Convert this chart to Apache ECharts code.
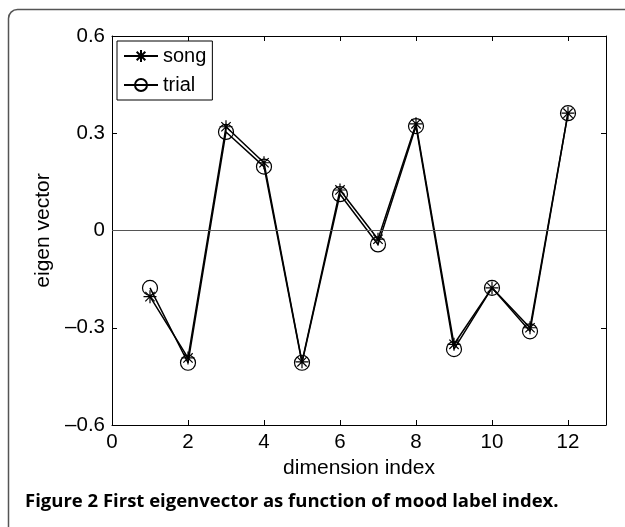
<!DOCTYPE html>
<html>
<head>
<meta charset="utf-8">
<script src="https://cdn.jsdelivr.net/npm/echarts@6/dist/echarts.min.js"></script>
<style>
  html, body { margin: 0; padding: 0; background: #fff; }
  #chart { width: 625px; height: 527px; }
</style>
</head>
<body>
<div id="chart"></div>
<script>
// values
var dims = [1, 2, 3, 4, 5, 6, 7, 8, 9, 10, 11, 12];
var song = [-0.204, -0.393, 0.320, 0.209, -0.405, 0.125, -0.027, 0.329, -0.351, -0.177, -0.300, 0.362];
var trial = [-0.177, -0.408, 0.304, 0.197, -0.408, 0.112, -0.043, 0.322, -0.366, -0.177, -0.311, 0.362];

var FONT = 'Liberation Sans, Arial, sans-serif';
var STAR = 'path://M0,-1L0,1M-1,0L1,0M-0.72,-0.72L0.72,0.72M-0.72,0.72L0.72,-0.72';

function pairs(ys) {
    return dims.map(function (x, i) { return [x, ys[i]]; });
}

function xFmt(v) {
    return v % 2 === 0 ? String(v) : '';   // no label on the 13 edge
}

function yFmt(v) {
    if (Math.abs(v) < 1e-9) return '0';
    return (v < 0 ? '\u2013' : '') + Math.abs(v).toFixed(1);
}

var axisCommon = {
    axisLine: { show: true, onZero: false, lineStyle: { color: '#000', width: 1 } },
    axisTick: { show: true, inside: true, length: 5, lineStyle: { color: '#000' } },
    splitLine: { show: false }
};

var chart = echarts.init(document.getElementById('chart'));
chart.setOption({
    animation: false,
    backgroundColor: '#fff',
    grid: { left: 112, right: 19, top: 36, bottom: 102 },
    legend: {
        orient: 'vertical',
        left: 117,
        top: 41,
        itemWidth: 34,
        itemHeight: 15,
        itemGap: 9,
        padding: [5, 6, 5, 6],
        borderColor: '#000',
        borderWidth: 1,
        borderRadius: 0,
        backgroundColor: '#fff',
        textStyle: { fontFamily: FONT, fontSize: 20, color: '#000' },
        data: ['song', 'trial']
    },
    xAxis: [
        Object.assign({}, axisCommon, {
            type: 'value', min: 0, max: 13, interval: 2,
            name: 'dimension index', nameLocation: 'middle', nameGap: 30,
            nameTextStyle: { fontFamily: FONT, fontSize: 21, color: '#000' },
            axisLabel: { fontFamily: FONT, fontSize: 20.5, color: '#000', margin: 7, formatter: xFmt }
        }),
        Object.assign({}, axisCommon, {
            type: 'value', min: 0, max: 13, interval: 2, position: 'top',
            axisLabel: { show: false }
        })
    ],
    yAxis: [
        Object.assign({}, axisCommon, {
            type: 'value', min: -0.6, max: 0.6, interval: 0.3,
            name: 'eigen vector', nameLocation: 'middle', nameGap: 56,
            nameTextStyle: { fontFamily: FONT, fontSize: 21, color: '#000' },
            axisLabel: { fontFamily: FONT, fontSize: 20.5, color: '#000', margin: 7, formatter: yFmt }
        }),
        Object.assign({}, axisCommon, {
            type: 'value', min: -0.6, max: 0.6, interval: 0.3, position: 'right',
            axisLabel: { show: false }
        })
    ],
    series: [
        {
            name: 'song',
            type: 'line',
            xAxisIndex: 0, yAxisIndex: 0,
            data: pairs(song),
            symbol: STAR,
            symbolSize: 13,
            lineStyle: { color: '#000', width: 1.5 },
            itemStyle: { color: 'none', borderColor: '#000', borderWidth: 1.2 },
            markLine: {
                silent: true,
                symbol: ['none', 'none'],
                label: { show: false },
                lineStyle: { color: '#555', width: 1, type: 'solid' },
                data: [{ yAxis: 0 }]
            },
            z: 3
        },
        {
            name: 'trial',
            type: 'line',
            xAxisIndex: 0, yAxisIndex: 0,
            data: pairs(trial),
            symbol: 'circle',
            symbolSize: 15,
            lineStyle: { color: '#000', width: 1.5 },
            itemStyle: { color: 'rgba(0,0,0,0)', borderColor: '#000', borderWidth: 1.2 },
            z: 3
        }
    ],
    graphic: [
        {
            type: 'rect',
            shape: { x: 8.5, y: 9.5, width: 700, height: 600, r: 9 },
            style: { fill: 'none', stroke: '#555', lineWidth: 1.5 },
            silent: true
        },
        {
            type: 'text',
            left: 25,
            top: 492,
            style: {
                text: 'Figure 2 First eigenvector as function of mood label index.',
                fontFamily: 'Open Sans, Noto Sans, sans-serif',
                fontWeight: 'bold',
                fontSize: 18.5,
                fill: '#000'
            }
        }
    ]
});
</script>
</body>
</html>
